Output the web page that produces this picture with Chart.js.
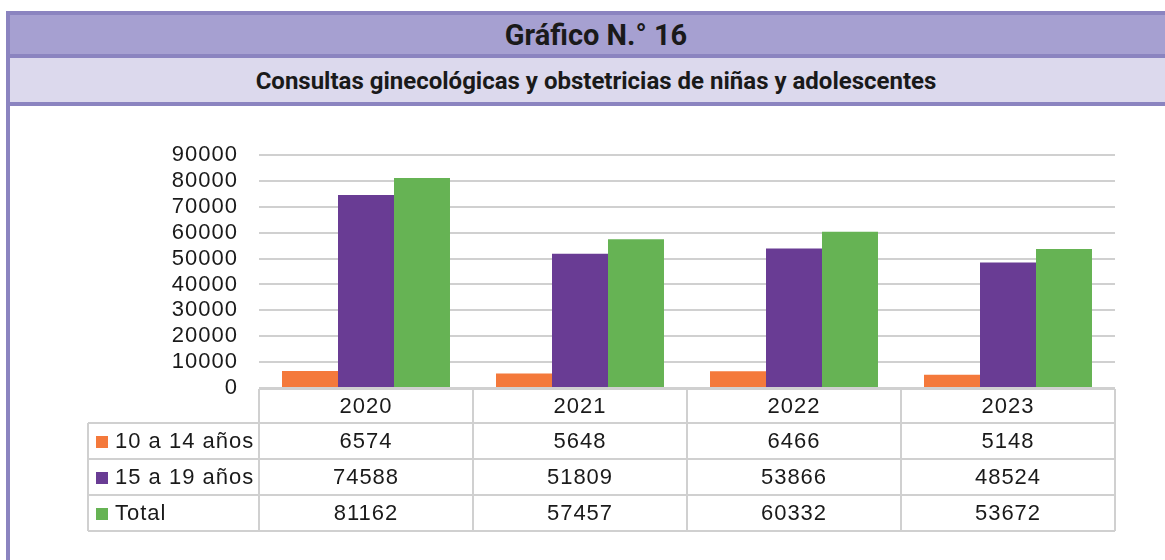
<!DOCTYPE html>
<html lang="es">
<head>
<meta charset="utf-8">
<title>Gráfico N.° 16</title>
<script src="https://cdn.jsdelivr.net/npm/chart.js@4.4.1/dist/chart.umd.min.js"></script>
<style>
  html, body { margin: 0; padding: 0; background: #fff; }
  body { width: 1165px; height: 560px; position: relative; overflow: hidden; }
  .frame {
    position: absolute; left: 6px; top: 11px; width: 1200px; height: 600px;
    border-left: 4px solid #8b84c0; border-top: 4px solid #8b84c0;
  }
  .title {
    position: absolute; left: 10px; top: 15px; width: 1172px; height: 39px;
    background: #a6a0d1; border-bottom: 4px solid #8b84c0;
    font: bold 29px Roboto, sans-serif; color: #1a1a1a;
    text-align: center; line-height: 41px;
  }
  .subtitle {
    position: absolute; left: 10px; top: 58px; width: 1172px; height: 44px;
    background: #dcd9ed; border-bottom: 4px solid #8b84c0;
    font: bold 24px Roboto, sans-serif; color: #1a1a1a;
    text-align: center; line-height: 46px;
  }
  #wrap { position: absolute; left: 0; top: 106px; width: 1165px; height: 454px; }
</style>
</head>
<body>
<div class="frame"></div>
<div class="title">Gráfico N.° 16</div>
<div class="subtitle">Consultas ginecológicas y obstetricias de niñas y adolescentes</div>
<div id="wrap"><canvas id="chart"></canvas></div>
<script>
// data
const years = ["2020", "2021", "2022", "2023"];
const ninas = [6574, 5648, 6466, 5148];        // 10 a 14 años
const adolescentes = [74588, 51809, 53866, 48524]; // 15 a 19 años
const total = [81162, 57457, 60332, 53672];
const seriesNames = ["10 a 14 años", "15 a 19 años", "Total"];
const seriesColors = ["#f4793b", "#693c94", "#66b354"];
const yTicks = [0, 10000, 20000, 30000, 40000, 50000, 60000, 70000, 80000, 90000];

const gridGray = "#d0d0d0";
const textFont = "22px 'Liberation Sans', Arial, sans-serif";

// a little letter spacing, like the original export
const spacing = {
  id: "spacing",
  beforeDraw(chart) { chart.ctx.letterSpacing = "1px"; }
};

// draws the data table under the plot, aligned on the x scale
const dataTable = {
  id: "dataTable",
  afterDraw(chart) {
    const ctx = chart.ctx;
    const x = chart.scales.x;
    const area = chart.chartArea;
    const step = (area.right - area.left) / years.length;
    const legendLeft = 88;
    const top = area.bottom + 1;
    const headH = 34;
    const rowH = 36;
    const rows = [ninas, adolescentes, total];

    ctx.save();
    ctx.letterSpacing = "1px";
    ctx.strokeStyle = gridGray;
    ctx.lineWidth = 2;
    ctx.fillStyle = "#1a1a1a";
    ctx.font = textFont;
    ctx.textBaseline = "middle";

    const bottom = top + headH + rowH * rows.length;
    // horizontal lines
    ctx.beginPath();
    ctx.moveTo(area.left, top);
    ctx.lineTo(area.right, top);
    for (let r = 0; r <= rows.length; r++) {
      const y = top + headH + r * rowH;
      ctx.moveTo(legendLeft, y);
      ctx.lineTo(area.right, y);
    }
    // vertical lines
    ctx.moveTo(legendLeft, top + headH);
    ctx.lineTo(legendLeft, bottom);
    for (let i = 0; i <= years.length; i++) {
      const xx = area.left + i * step;
      ctx.moveTo(xx, top);
      ctx.lineTo(xx, bottom);
    }
    ctx.stroke();

    // header
    ctx.textAlign = "center";
    years.forEach((y, i) => {
      ctx.fillText(y, x.getPixelForValue(i), top + headH / 2 + 1);
    });

    // rows
    rows.forEach((vals, r) => {
      const cy = top + headH + r * rowH + rowH / 2 + 1;
      ctx.fillStyle = seriesColors[r];
      ctx.fillRect(legendLeft + 8, cy - 6, 12, 12);
      ctx.fillStyle = "#1a1a1a";
      ctx.textAlign = "left";
      ctx.fillText(seriesNames[r], legendLeft + 27, cy);
      ctx.textAlign = "center";
      vals.forEach((v, i) => {
        ctx.fillText(String(v), x.getPixelForValue(i), cy);
      });
    });
    ctx.restore();
  }
};

new Chart(document.getElementById("chart"), {
  type: "bar",
  data: {
    labels: years,
    datasets: [
      { label: seriesNames[0], data: ninas, backgroundColor: seriesColors[0] },
      { label: seriesNames[1], data: adolescentes, backgroundColor: seriesColors[1] },
      { label: seriesNames[2], data: total, backgroundColor: seriesColors[2] },
    ],
  },
  options: {
    responsive: true,
    maintainAspectRatio: false,
    animation: false,
    layout: { padding: { left: 0, right: 50, top: 49, bottom: 172 } },
    datasets: { bar: { categoryPercentage: 0.785, barPercentage: 1 } },
    scales: {
      x: { display: false },
      y: {
        min: yTicks[0],
        max: yTicks[yTicks.length - 1],
        afterFit: (scale) => { scale.width = 259; },
        afterBuildTicks: (scale) => { scale.ticks = yTicks.map((v) => ({ value: v })); },
        ticks: {
          autoSkip: false,
          padding: 21,
          color: "#1a1a1a",
          font: { family: "'Liberation Sans', Arial, sans-serif", size: 22 },
          callback: (v) => String(v),
        },
        grid: { color: gridGray, lineWidth: 2, drawTicks: false },
        border: { display: false },
      },
    },
    plugins: {
      legend: { display: false },
      tooltip: { enabled: false },
    },
  },
  plugins: [spacing, dataTable],
});
</script>
</body>
</html>
